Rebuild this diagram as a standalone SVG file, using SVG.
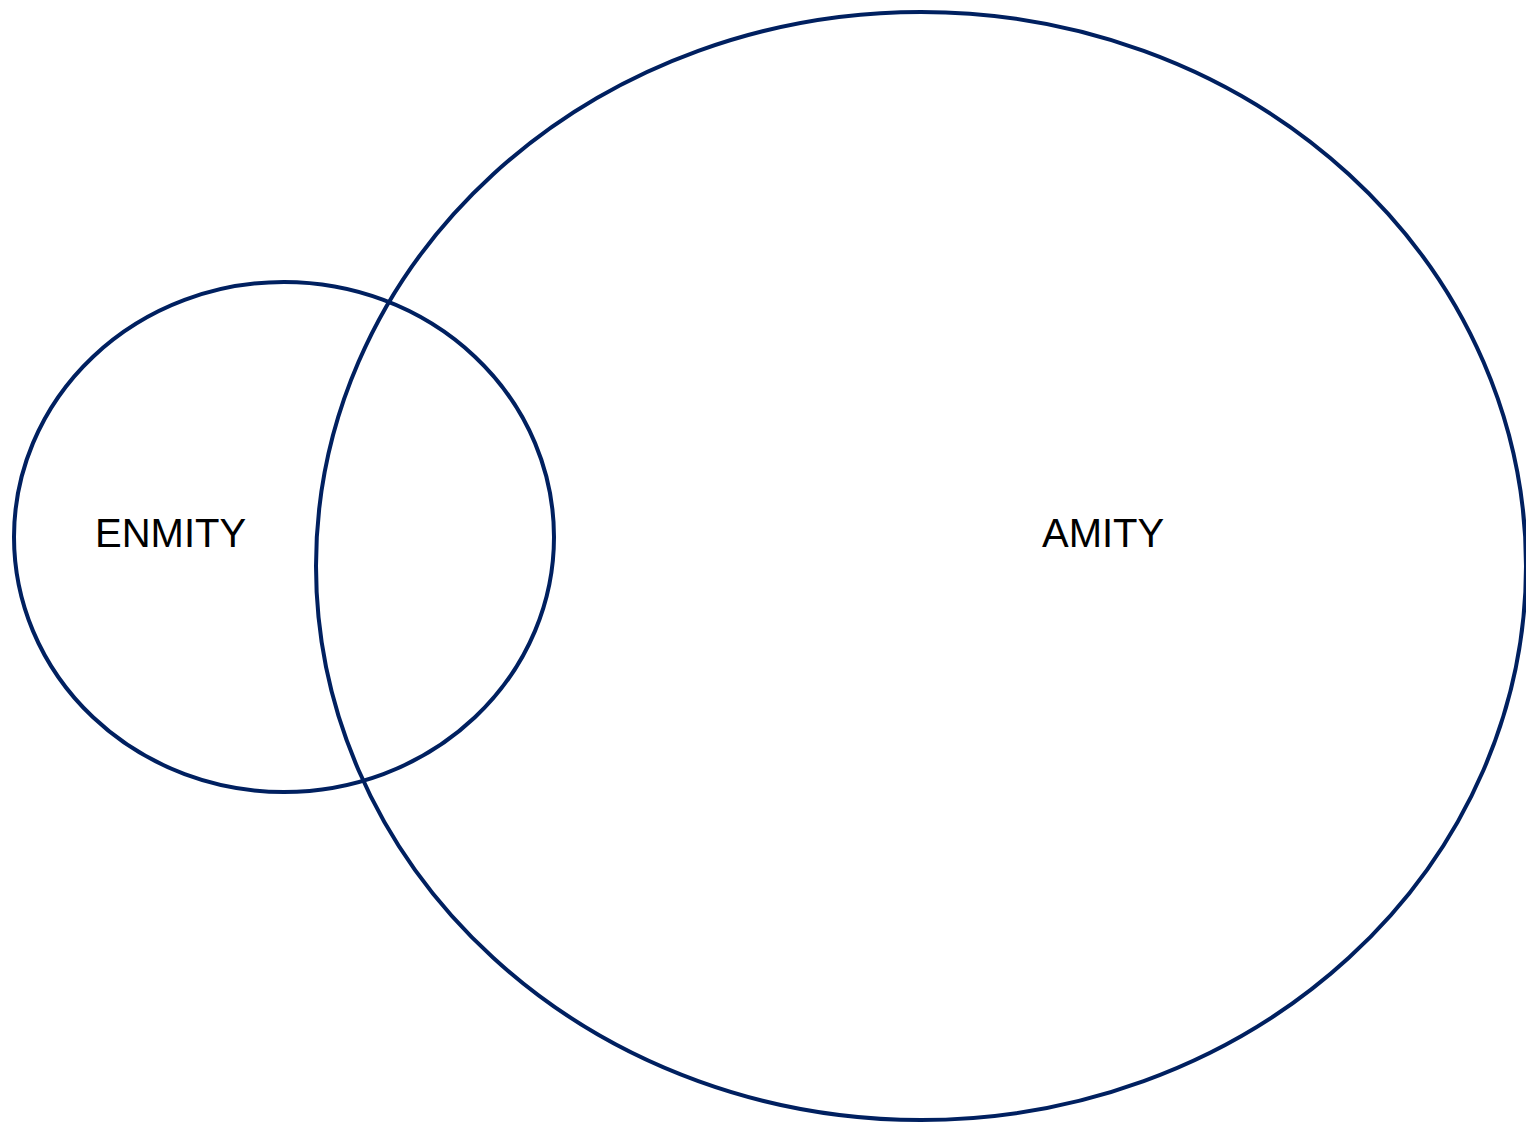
<svg xmlns="http://www.w3.org/2000/svg" width="1526" height="1122" viewBox="0 0 1526 1122">
<style>
.shape{fill:none;stroke:#002060;stroke-width:4}
.lbl{font-family:"Liberation Sans",Arial,sans-serif;font-size:40px;fill:#000}
</style>
<rect width="1526" height="1122" fill="#fff"/>
<g id="amity">
<ellipse class="shape" cx="921" cy="566" rx="605" ry="554"/>
<text class="lbl" x="1042" y="547">AMITY</text>
</g>
<g id="enmity">
<ellipse class="shape" cx="284" cy="537" rx="270" ry="255"/>
<text class="lbl" x="95" y="547">ENMITY</text>
</g>
<g id="connectors"></g>
</svg>
